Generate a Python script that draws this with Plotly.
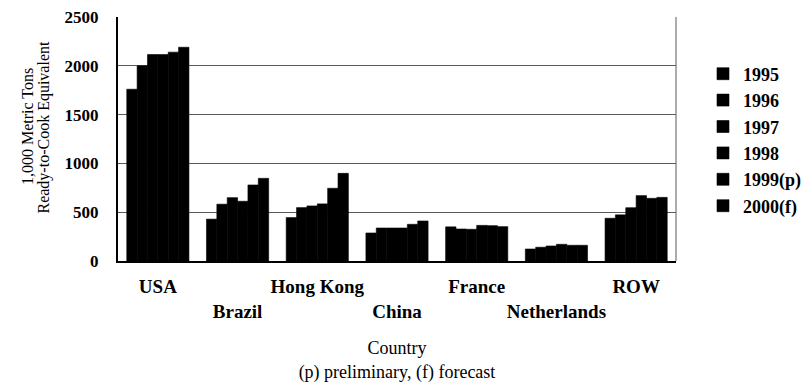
import plotly.graph_objects as go

# Exports by country, 1,000 metric tons (ready-to-cook equivalent)
countries = ["USA", "Brazil", "Hong Kong", "China", "France", "Netherlands", "ROW"]
years = ["1995", "1996", "1997", "1998", "1999(p)", "2000(f)"]

v1995 = [1760, 429, 445, 287, 350, 123, 438]
v1996 = [2000, 582, 547, 338, 328, 141, 473]
v1997 = [2115, 649, 564, 338, 325, 154, 546]
v1998 = [2115, 612, 585, 338, 365, 171, 670]
v1999 = [2140, 779, 745, 376, 362, 161, 642]
v2000 = [2190, 847, 898, 410, 352, 161, 652]

y_ticks = [0, 500, 1000, 1500, 2000, 2500]

series = [v1995, v1996, v1997, v1998, v1999, v2000]

SERIF = "Liberation Serif"
W, H = 805, 385
M_L, M_R, M_T, M_B = 118, 129, 17, 124
PLOT_W = W - M_L - M_R
PLOT_H = H - M_T - M_B

fig = go.Figure()
for name, vals in zip(years, series):
    fig.add_trace(go.Bar(
        x=countries, y=vals, name=name,
        legendgroup=name,
        marker=dict(color="black", line=dict(color="black", width=0.6)),
    ))

# alternate category labels between two rows
tick_text = [c if i % 2 == 0 else " <br>" + c for i, c in enumerate(countries)]

fig.update_layout(
    width=W, height=H,
    margin=dict(l=M_L, r=M_R, t=M_T, b=M_B, autoexpand=False),
    paper_bgcolor="white", plot_bgcolor="white",
    barmode="group", bargap=0.22, bargroupgap=0,
    font=dict(family=SERIF, color="black"),
    showlegend=True,
    legend=dict(
        xref="container", yref="container",
        x=703 / W, xanchor="left", y=1 - 140 / H, yanchor="middle",
        font=dict(family=SERIF, size=18, weight="bold"),
        tracegroupgap=0, bgcolor="rgba(0,0,0,0)",
    ),
    xaxis=dict(
        tickmode="array", tickvals=countries, ticktext=tick_text,
        tickfont=dict(family=SERIF, size=19, weight="bold"),
        tickangle=0, automargin=False,
        showline=True, linecolor="black", linewidth=2,
        ticks="", ticklabelstandoff=7,
        title=dict(text="Country<br>(p) preliminary, (f) forecast",
                   font=dict(family=SERIF, size=18), standoff=21),
    ),
    yaxis=dict(
        range=[0, 2500], tickvals=y_ticks, automargin=False,
        tickfont=dict(family=SERIF, size=17, weight="bold"),
        showline=True, linecolor="black", linewidth=2,
        showgrid=True, gridcolor="#5a5a5a", gridwidth=1,
        zeroline=False, ticks="", ticklabelstandoff=14,
    ),
)

# y-axis title, two tightly spaced rotated lines
y_title_lines = ["1,000 Metric Tons", "Ready-to-Cook Equivalent"]
for line, px in zip(y_title_lines, [28, 43.5]):
    fig.add_annotation(
        text=line, textangle=-90, showarrow=False,
        xref="paper", yref="paper",
        x=(px - M_L) / PLOT_W, y=(M_T + PLOT_H - 127) / PLOT_H,
        xanchor="center", yanchor="middle",
        font=dict(family=SERIF, size=16, color="black"),
    )

# right frame edge of the plotting area
fig.add_shape(type="line", xref="paper", yref="paper", x0=1, x1=1, y0=0, y1=1,
              line=dict(color="#5a5a5a", width=1))

fig.write_html("out.html")
